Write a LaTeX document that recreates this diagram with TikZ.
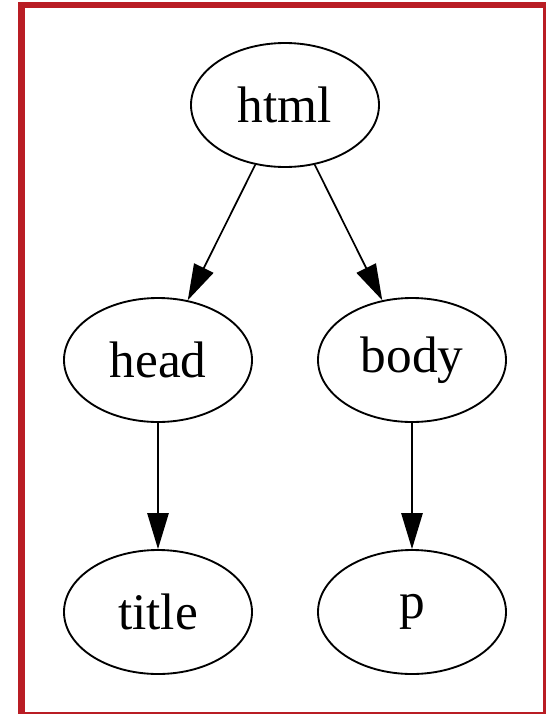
\documentclass[tikz,border=0pt]{standalone}
\usepackage{fontspec}
\setmainfont{Liberation Serif}
\usetikzlibrary{shapes.geometric,arrows.meta}
\definecolor{framered}{RGB}{185,29,36}
\tikzset{
  elnode/.style={draw=black, line width=1.4pt, ellipse, minimum width=141pt, minimum height=93pt, inner sep=0pt, font=\fontsize{38.5}{40}\selectfont},
  edge/.style={draw=black, line width=1.3pt, -{Triangle[length=27pt,width=16pt]}}
}
\begin{document}
\begin{tikzpicture}[x=0.75pt,y=-0.75pt]
\useasboundingbox (0,0) rectangle (546,714);
\fill[white] (0,0) rectangle (546,714);
\begin{scope}
\clip (0,0) rectangle (546,714);
\draw[framered, line width=5.2pt] (21.5,5) rectangle (546.5,715.5);
\end{scope}
\node[elnode] (html) at (285,105) {html};
\node[elnode] (head) at (158,360) {head};
\node[elnode] (body) at (412,360) {body};
\node[elnode] (title) at (158,612) {title};
\node[elnode] (p) at (412,612) {p};
\draw[edge] (html) -- (head);
\draw[edge] (html) -- (body);
\draw[edge] (head) -- (title);
\draw[edge] (body) -- (p);
\end{tikzpicture}
\end{document}
